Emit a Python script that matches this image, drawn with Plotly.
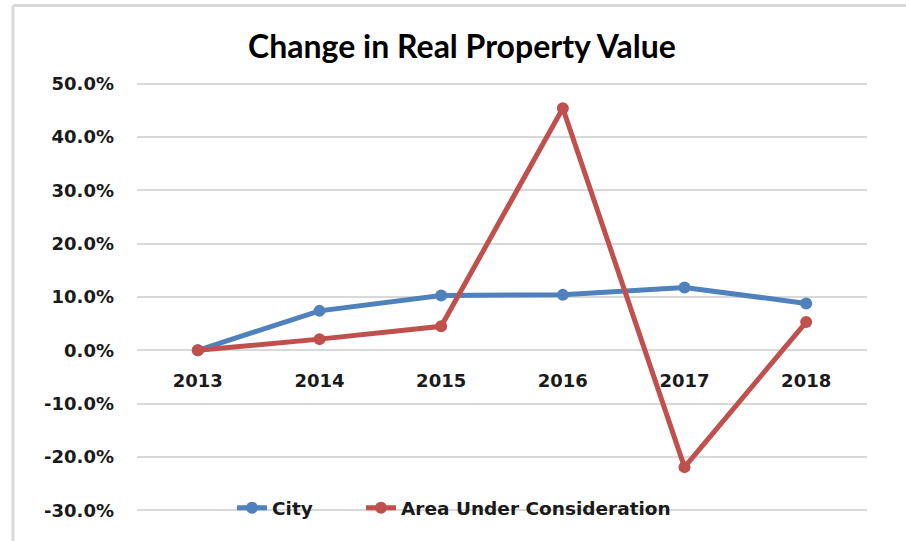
import plotly.graph_objects as go

years = ["2013", "2014", "2015", "2016", "2017", "2018"]
city = [0.0, 7.4, 10.3, 10.4, 11.8, 8.8]
area = [0.0, 2.1, 4.5, 45.4, -21.9, 5.3]
y_ticks = [-30, -20, -10, 0, 10, 20, 30, 40, 50]
y_tick_labels = [f"{v:.1f}%" for v in y_ticks]

W, H = 906, 541
# gridline 50% at y=84, -30% at y=510 -> pixels per unit
ppu = (510 - 84) / 80.0
pad = 0.5
ymin, ymax = -30 - pad, 50 + pad
T = 84 - pad * ppu
B = (H - 510) - pad * ppu
L, R = 137, 39
pw, ph = W - L - R, H - T - B

fig = go.Figure()
fig.add_trace(go.Scatter(x=years, y=city, name="City", mode="lines+markers",
                         line=dict(color="#4f81bd", width=5),
                         marker=dict(size=12, color="#4f81bd"), legend="legend"))
fig.add_trace(go.Scatter(x=years, y=area, name="Area Under Consideration", mode="lines+markers",
                         line=dict(color="#c0504d", width=5),
                         marker=dict(size=12, color="#c0504d"), legend="legend2"))

tick_font = dict(family="DejaVu Sans", size=18, color="#1a1a1a", weight="bold")
leg_font = dict(family="DejaVu Sans", size=18.5, color="#1a1a1a", weight="bold")
leg_y = (-29.6 - ymin) / (ymax - ymin)
fig.update_layout(
    width=W, height=H,
    margin=dict(l=L, r=R, t=T, b=B),
    paper_bgcolor="white", plot_bgcolor="white",
    title=dict(text="<b>Change in Real Property Value</b>", x=(462 - L) / pw, xref="paper",
               xanchor="center", y=1 - 47 / H, yanchor="middle",
               font=dict(family="Lato", size=32, color="#000000")),
    font=dict(family="DejaVu Sans", color="#1a1a1a"),
    xaxis=dict(type="category", anchor="free", position=(0 - ymin) / (ymax - ymin),
               showgrid=False, showline=False, zeroline=False, ticks="",
               ticklabelstandoff=18, tickfont=tick_font,
               range=[-0.5, 5.5]),
    yaxis=dict(range=[ymin, ymax], tickvals=y_ticks, ticktext=y_tick_labels,
               showgrid=True, gridcolor="#d9d9d9", gridwidth=2,
               zeroline=True, zerolinecolor="#d9d9d9", zerolinewidth=2,
               showline=False, ticks="", ticklabelstandoff=22, tickfont=tick_font),
    legend=dict(orientation="h", x=(232 - L) / pw, xanchor="left", y=leg_y, yanchor="middle",
                bgcolor="rgba(0,0,0,0)", font=leg_font, itemwidth=30),
    legend2=dict(orientation="h", x=(361 - L) / pw, xanchor="left", y=leg_y, yanchor="middle",
                 bgcolor="rgba(0,0,0,0)", font=leg_font, itemwidth=30),
    showlegend=True,
    shapes=[
        dict(type="line", xref="paper", yref="paper", x0=(13 - L) / pw, x1=(W - L) / pw,
             y0=(H - B - 6) / ph, y1=(H - B - 6) / ph, line=dict(color="#d9d9d9", width=3)),
        dict(type="line", xref="paper", yref="paper", x0=(13 - L) / pw, x1=(13 - L) / pw,
             y0=(H - B - 6) / ph, y1=-(B) / ph, line=dict(color="#d9d9d9", width=3)),
    ],
)
fig.write_html("out.html", config={"displayModeBar": False},
               post_script="document.body.style.margin='0';document.body.style.padding='0';document.body.style.overflow='hidden';")
